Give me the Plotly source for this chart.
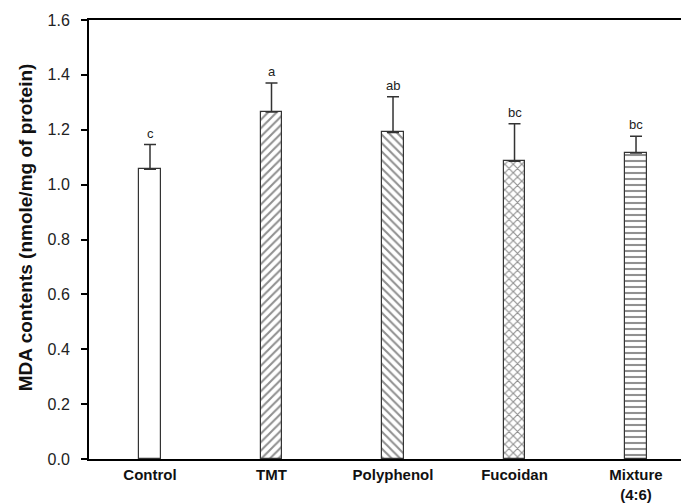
import plotly.graph_objects as go

categories = ["Control", "TMT", "Polyphenol", "Fucoidan", "Mixture<br>(4:6)"]
means = [1.056, 1.265, 1.19, 1.085, 1.115]
errors = [0.09, 0.105, 0.13, 0.137, 0.061]
letters = ["c", "a", "ab", "bc", "bc"]
patterns = ["", "/", "\\", "x", "-"]

x = list(range(len(categories)))

# page body has an 8px margin; figure is sized to fit inside the window
W, H = 681, 495
L, T, B = 81, 12, 44
plot_w = W - L

fig = go.Figure()
fig.add_trace(go.Bar(
    x=x, y=means, width=0.175,
    marker=dict(color="white", line=dict(color="#333333", width=1.2),
                pattern=dict(shape=patterns, fgcolor="#222222", bgcolor="white",
                             size=6, solidity=0.35)),
    error_y=dict(type="data", array=errors, arrayminus=[0]*5, symmetric=False,
                 color="#333333", thickness=1.5, width=6),
    showlegend=False,
))

for i, (m, e, l) in enumerate(zip(means, errors, letters)):
    fig.add_annotation(x=i, y=m + e, text=l, showarrow=False, yanchor="bottom",
                       yshift=2, font=dict(family="Liberation Sans, Arial", size=13, color="#222"))

fig.add_annotation(xref="paper", yref="paper", x=(17 - L) / plot_w, y=0.528,
                   text="<b>MDA contents (nmole/mg of protein)</b>", textangle=-90,
                   showarrow=False, xanchor="center", yanchor="middle",
                   font=dict(family="Liberation Sans, Arial", size=19, color="#111"))

fig.update_layout(
    width=W, height=H,
    margin=dict(l=L, r=0, t=T, b=B),
    plot_bgcolor="white", paper_bgcolor="white",
    font=dict(family="Liberation Sans, Arial", color="#222"),
    bargap=0,
)
fig.update_xaxes(
    range=[-0.502, 4.436], tickvals=x, ticktext=["<b>%s</b>" % c for c in categories],
    showline=True, linecolor="black", linewidth=2, mirror=True,
    ticks="outside", ticklen=1, tickcolor="rgba(0,0,0,0)", showgrid=False, zeroline=False,
    tickfont=dict(size=15, color="#111"), automargin=False,
)
fig.update_yaxes(
    range=[0, 1.6], tickvals=[0, 0.2, 0.4, 0.6, 0.8, 1.0, 1.2, 1.4, 1.6],
    tickformat=".1f", showline=True, linecolor="black", linewidth=2,
    ticks="outside", ticklen=6, tickwidth=1.5, tickcolor="black",
    ticklabelstandoff=8,
    showgrid=False, zeroline=False, automargin=False,
    tickfont=dict(size=16, color="#222"),
)

fig.write_html("out.html")
